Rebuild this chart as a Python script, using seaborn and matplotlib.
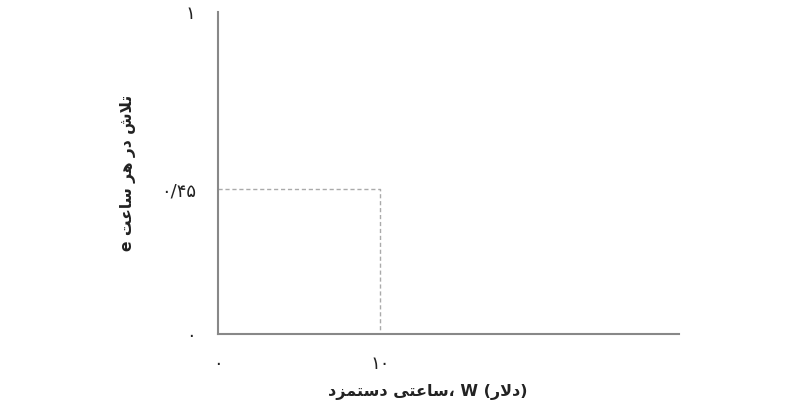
import matplotlib
matplotlib.use("Agg")
import matplotlib.pyplot as plt
import seaborn as sns

# data
wage = [0, 10, 10]
effort = [0.45, 0.45, 0]
xticks = [0, 10]
xticklabels = ["۰", "۱۰"]
yticks = [0, 0.45, 1]
yticklabels = ["۰", "۰/۴۵", "۱"]

# simple persian shaping (matplotlib has no bidi/shaping)
FORMS = {
    "ا": ("\uFE8D", "\uFE8E", None, None),
    "ت": ("\uFE95", "\uFE96", "\uFE97", "\uFE98"),
    "ل": ("\uFEDD", "\uFEDE", "\uFEDF", "\uFEE0"),
    "ش": ("\uFEB5", "\uFEB6", "\uFEB7", "\uFEB8"),
    "د": ("\uFEA9", "\uFEAA", None, None),
    "ر": ("\uFEAD", "\uFEAE", None, None),
    "ه": ("\uFEE9", "\uFEEA", "\uFEEB", "\uFEEC"),
    "س": ("\uFEB1", "\uFEB2", "\uFEB3", "\uFEB4"),
    "ع": ("\uFEC9", "\uFECA", "\uFECB", "\uFECC"),
    "ی": ("\uFBFC", "\uFBFD", "\uFBFE", "\uFBFF"),
    "م": ("\uFEE1", "\uFEE2", "\uFEE3", "\uFEE4"),
    "ز": ("\uFEAF", "\uFEB0", None, None),
    "LA": ("\uFEFB", "\uFEFC", None, None),
}


def shape(word):
    letters = []
    i = 0
    while i < len(word):
        if word[i] == "ل" and i + 1 < len(word) and word[i + 1] == "ا":
            letters.append("LA")
            i += 2
        else:
            letters.append(word[i])
            i += 1
    out = []
    for k, ch in enumerate(letters):
        if ch not in FORMS:
            out.append(ch)
            continue
        prev = letters[k - 1] if k > 0 else None
        nxt = letters[k + 1] if k + 1 < len(letters) else None
        jp = prev in FORMS and FORMS[prev][2] is not None
        jn = nxt in FORMS and FORMS[ch][2] is not None
        iso, fin, ini, med = FORMS[ch]
        if jp and jn:
            out.append(med)
        elif jp:
            out.append(fin)
        elif jn:
            out.append(ini)
        else:
            out.append(iso)
    return "".join(reversed(out))


ylabel = " ".join(shape(w) for w in ["e", "ساعت", "هر", "در", "تلاش"])
xlabel = " ".join([shape("دستمزد"), shape("ساعتی") + "،", "W", "(" + shape("دلار") + ")"])

sns.set_style("white")
plt.rcParams["font.family"] = ["DejaVu Sans"]

fig = plt.figure(figsize=(8.1, 4.12), dpi=100)
ax = fig.add_axes([0.2691, 0.1893, 0.569, 0.7816])

sns.lineplot(x=wage, y=effort, sort=False, estimator=None, ax=ax,
             color="#aaaaaa", linestyle=(0, (3, 2)), linewidth=1)

ax.set_xlim(0, 28.4)
ax.set_ylim(0, 1)
ax.set_xticks(xticks)
ax.set_xticklabels(xticklabels, fontsize=13)
ax.set_yticks(yticks)
ax.set_yticklabels(yticklabels, fontsize=13)
ax.tick_params(axis="both", direction="out", length=6, width=1.2, color="#888888",
               labelcolor="#222222")
ax.tick_params(axis="x", pad=9)
ax.tick_params(axis="y", pad=10)

for s in ["top", "right"]:
    ax.spines[s].set_visible(False)
for s in ["left", "bottom"]:
    ax.spines[s].set_color("#888888")
    ax.spines[s].set_linewidth(1.5)

ax.set_xlabel(xlabel, fontsize=11.5, fontweight="bold", labelpad=8, color="#222222")
ax.xaxis.label.set_x(0.455)
ax.set_ylabel(ylabel, fontsize=11.2, fontweight="bold", labelpad=18, color="#222222")

fig.savefig("out.png", dpi=100)
